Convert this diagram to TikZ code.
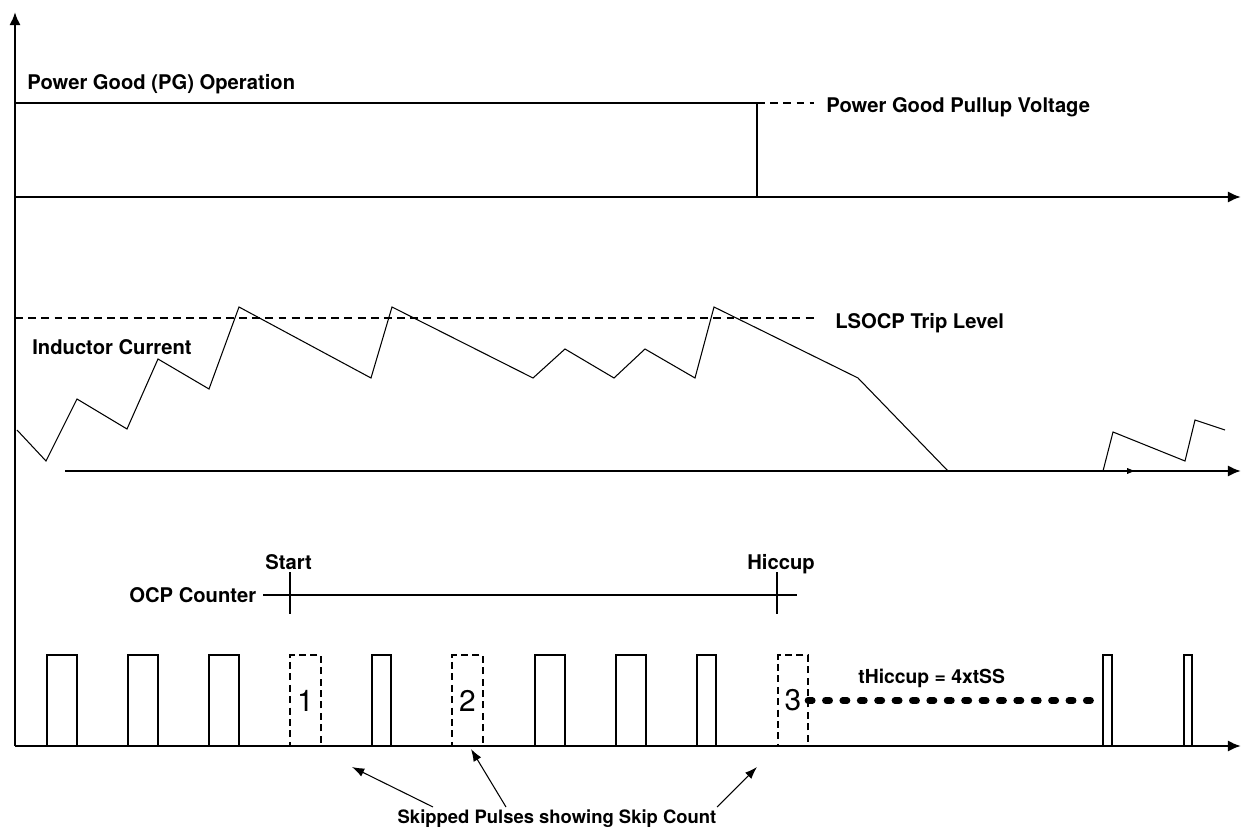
\documentclass[tikz,border=0pt]{standalone}
\usepackage{fontspec}
\setmainfont{TeX Gyre Heros}
\usetikzlibrary{arrows.meta, positioning, calc}

\begin{document}
\begin{tikzpicture}[
    x=0.02cm, y=-0.02cm,
    every node/.style={font=\fontsize{11.5}{14}\bfseries\selectfont},
    small/.style={font=\fontsize{10.5}{12}\bfseries\selectfont},
    axis/.style={line width=1.7pt, -{Latex[length=7.5pt, width=6.5pt]}},
    wave/.style={line width=0.6pt},
    level/.style={line width=1.1pt, dash pattern=on 4.5pt off 3pt},
    pulse/.style={rectangle, draw, line width=0.6pt, inner sep=0pt, outer sep=0pt,
                  minimum height=1.82cm, anchor=south west},
    skipbox/.style={pulse, line width=0.9pt, dash pattern=on 4pt off 2.5pt,
                    font=\fontsize{17}{19}\selectfont},
    hiccup/.style={line width=3.8pt, line cap=round, dash pattern=on 2.4pt off 7.5pt},
    ptr/.style={line width=0.6pt, -{Latex[length=7pt, width=5pt]}}
]
    \useasboundingbox (0,0) rectangle (1243,837);

    % axes
    \coordinate (o)   at (15,746);
    \coordinate (top) at (15,12);
    \draw[axis] (o) -- (top);
    \draw[axis] (15,197) -- (1241,197);
    \draw[axis] (65,471) -- (1241,471);
    \draw[axis] (o) -- (1241,746);
    \draw[wave, -{Latex[length=5pt, width=3.5pt]}] (1100,471) -- (1136,471);

    % power good
    \node[anchor=base west, inner sep=0pt] (pglbl) at (27,90) {Power Good (PG) Operation};
    \draw[wave] (15,103) -- (757,103) -- (757,197);
    \draw[level, line width=0.8pt] (757,103) -- (814,103);
    \node[anchor=base west, inner sep=0pt] (pullup) at (826,113) {Power Good Pullup Voltage};

    % inductor current
    \node[anchor=base west, inner sep=0pt] (ilbl) at (32,355) {Inductor Current};
    \draw[level] (15,318) -- (818,318);
    \node[anchor=base west, inner sep=0pt] (trip) at (835,329) {LSOCP Trip Level};
    \draw[wave] (17,430) -- (46,461) -- (77,399) -- (127,429) -- (158,359)
        -- (209,389) -- (239,307) -- (371,378) -- (392,307) -- (533,378)
        -- (565,349) -- (614,378) -- (645,349) -- (695,378) -- (714,307)
        -- (858,378) -- (948,471);
    \draw[wave] (1103,471) -- (1113,432) -- (1185,461) -- (1195,420) -- (1225,430);

    % ocp counter
    \node[anchor=base west, inner sep=0pt] (ocp)   at (129,602) {OCP Counter};
    \node[anchor=base west, inner sep=0pt] (start) at (265,569) {Start};
    \node[anchor=base west, inner sep=0pt] (hic)   at (747,569) {Hiccup};
    \draw[wave] (263,595) -- (797,595);
    \draw[wave] (290,572) -- (290,614);
    \draw[wave] (777,572) -- (777,614);

    % switching pulses
    \foreach \x/\w [count=\i] in {47/30, 128/30, 209/30, 372/19, 535/30,
                                  616/30, 697/19, 1103/9, 1184/8}
        \node[pulse, minimum width={\w*0.02cm}] (pulse\i) at (\x,746) {};
    \node[skipbox, minimum width=0.62cm] (skip1) at (290,746) {1};
    \node[skipbox, minimum width=0.62cm] (skip2) at (452,746) {2};
    \node[skipbox, minimum width=0.60cm] (skip3) at (778,746) {3};

    \node[anchor=base west, inner sep=0pt, font=\fontsize{11}{13}\bfseries\selectfont]
        (thic) at (858,683) {tHiccup = 4xtSS};
    \draw[hiccup] (skip3.east) -- (skip3.east -| pulse8.west);

    % skip count pointers
    \node[small, anchor=base] (skiplbl) at (557,823) {Skipped Pulses showing Skip Count};
    \coordinate (tail1) at (433,807);
    \coordinate (tail2) at (506,807);
    \coordinate (tail3) at (717,807);
    \coordinate (tip1)  at (352,767);
    \coordinate (tip2)  at (471,749);
    \coordinate (tip3)  at (757,767);
    \draw[ptr] (tail1) -- (tip1);
    \draw[ptr] (tail2) -- (tip2);
    \draw[ptr] (tail3) -- (tip3);
\end{tikzpicture}
\end{document}
